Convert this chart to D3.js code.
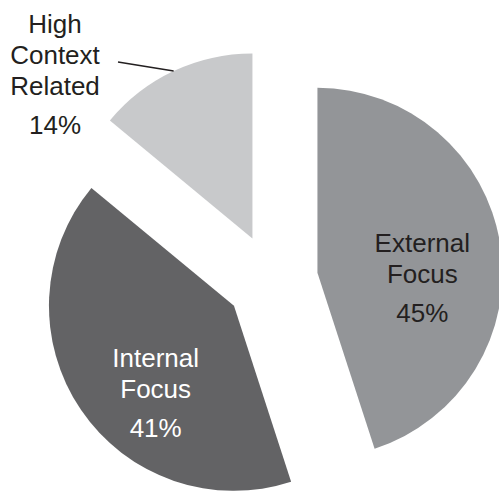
<!DOCTYPE html>
<html>
<head>
<meta charset="utf-8">
<script src="https://cdn.jsdelivr.net/npm/d3@7"></script>
<style>
  html, body { margin: 0; padding: 0; background: #ffffff; }
  svg { display: block; }
  text { font-family: "Liberation Sans", Arial, Helvetica, sans-serif; }
</style>
</head>
<body>
<svg id="chart" width="499" height="492"></svg>
<script>
// ---- data ----
const categories = ["External Focus", "Internal Focus", "High Context Related"];
const labelLines = [["External", "Focus"], ["Internal", "Focus"], ["High", "Context", "Related"]];
const values = [45, 41, 14];
const percentLabels = ["45%", "41%", "14%"];
const colors = ["#939598", "#636365", "#c8c9cb"];
const textColors = ["#231f20", "#ffffff", "#231f20"];

// ---- layout ----
const cx = 272, cy = 280;
const radius = 185;
const explode = 46;
const fontSize = 26;

const svg = d3.select("#chart");

const pie = d3.pie().value(d => d).sort(null).startAngle(0).endAngle(2 * Math.PI);
const arcs = pie(values);
const arc = d3.arc().innerRadius(0).outerRadius(radius);

const g = svg.append("g").attr("transform", `translate(${cx},${cy})`);

const slices = g.selectAll("g.slice")
  .data(arcs)
  .enter().append("g")
  .attr("class", "slice")
  .attr("transform", d => {
    const a = (d.startAngle + d.endAngle) / 2;
    return `translate(${explode * Math.sin(a)},${-explode * Math.cos(a)})`;
  });

slices.append("path")
  .attr("d", arc)
  .attr("fill", (d, i) => colors[i]);

// label placement (polar offsets relative to each slice's apex, or absolute for the outside label)
const labelPolar = [
  { angle: 92.7, r: 105 },
  { angle: 222, r: 117 },
  null
];
const lineGap = 31, pctGap = 39;

arcs.forEach((d, i) => {
  const a = (d.startAngle + d.endAngle) / 2;
  const ax = cx + explode * Math.sin(a), ay = cy - explode * Math.cos(a);
  let lx, ly;
  if (labelPolar[i]) {
    const t = labelPolar[i].angle * Math.PI / 180;
    lx = ax + labelPolar[i].r * Math.sin(t);
    ly = ay - labelPolar[i].r * Math.cos(t);
  } else {
    lx = 55; ly = 74;
  }
  const lines = labelLines[i];
  const n = lines.length;
  const blockTop = ly - ((n - 1) * lineGap + pctGap) / 2 - fontSize * 0.36;
  const tg = svg.append("g").attr("class", "label");
  lines.forEach((s, k) => {
    tg.append("text")
      .attr("x", lx)
      .attr("y", blockTop + fontSize * 0.72 + k * lineGap)
      .attr("text-anchor", "middle")
      .attr("font-size", fontSize)
      .attr("fill", textColors[i])
      .text(s);
  });
  tg.append("text")
    .attr("x", lx)
    .attr("y", blockTop + fontSize * 0.72 + (n - 1) * lineGap + pctGap)
    .attr("text-anchor", "middle")
    .attr("font-size", fontSize)
    .attr("fill", textColors[i])
    .text(percentLabels[i]);

  if (!labelPolar[i]) {
    // leader line from label to the slice's outer edge at its mid angle
    const ex = ax + radius * Math.sin(a);
    const ey = ay - radius * Math.cos(a);
    svg.append("line")
      .attr("x1", 118).attr("y1", 62)
      .attr("x2", ex).attr("y2", ey)
      .attr("stroke", "#231f20")
      .attr("stroke-width", 1.6);
  }
});
</script>
</body>
</html>
